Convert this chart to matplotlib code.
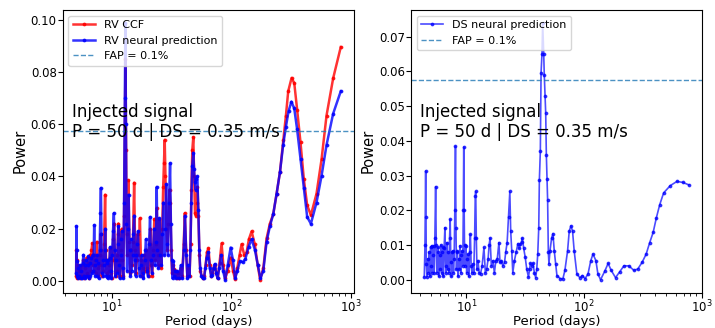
import numpy as np
import matplotlib.pyplot as plt

# ==================== Data ====================

rv_ccf_period = [
    5.00, 5.02, 5.05, 5.09, 5.14, 5.20, 5.27, 5.34, 5.42, 5.50, 5.58, 5.66, 5.74, 5.82, 5.92,
    6.02, 6.12, 6.22, 6.32, 6.42, 6.52, 6.62, 6.72, 6.82, 6.92, 7.02, 7.12, 7.22, 7.34, 7.46,
    7.56, 7.66, 7.78, 7.90, 8.00, 8.08, 8.18, 8.30, 8.42, 8.56, 8.74, 8.86, 8.98, 9.08, 9.20,
    9.34, 9.48, 9.62, 9.76, 9.90, 10.05, 10.22, 10.4, 10.56, 10.72, 10.9, 11.05, 11.2, 11.3,
    11.5, 11.65, 11.85, 12.05, 12.2, 12.4, 12.6, 12.8, 12.95, 13.1, 13.25, 13.45, 13.7, 13.95,
    14.2, 14.45, 14.7, 14.95, 15.3, 15.6, 15.85, 16.1, 16.4, 16.75, 17.1, 17.45, 17.8, 18.2,
    18.6, 19.0, 19.4, 19.8, 20.2, 20.6, 20.9, 21.3, 21.7, 22.1, 22.6, 23.0, 23.4, 23.7, 24.1,
    24.5, 24.9, 25.4, 25.9, 26.3, 26.8, 27.2, 27.6, 28.0, 28.5, 29.0, 29.6, 30.3, 30.8, 31.3,
    31.8, 32.3, 32.8, 33.4, 34.0, 34.7, 35.4, 36.5, 37.6, 38.7, 39.8, 40.7, 41.7, 42.7, 43.6,
    44.6, 45.4, 46.2, 47.0, 47.9, 48.7, 49.5, 50.3, 51.1, 51.9, 52.9, 53.9, 54.8, 56.2, 57.7,
    59.2, 60.7, 62.3, 64.2, 66.0, 67.7, 69.2, 71.0, 72.8, 74.6, 76.8, 79.5, 82.7, 85.5, 88.8,
    93.0, 98.4, 103, 107, 112, 117, 121.6, 128, 134, 140, 147.5, 157, 166, 174, 185, 197, 210,
    224, 239, 255, 272, 286, 299, 319, 336, 355, 379, 404, 431, 463, 516, 569, 626, 711, 824]
rv_ccf_power = [
    0.002, 0.012, 0.008, 0.001, 0.006, 0.002, 0.004, 0.001, 0.005, 0.002, 0.006, 0.002, 0.008, 0.001, 0.005,
    0.002, 0.009, 0.003, 0.007, 0.001, 0.010, 0.004, 0.012, 0.0144, 0.006, 0.010, 0.004, 0.008, 0.003, 0.015,
    0.005, 0.002, 0.006, 0.010, 0.018, 0.012, 0.002, 0.006, 0.004, 0.014, 0.033, 0.012, 0.003, 0.008, 0.002,
    0.006, 0.004, 0.0125, 0.003, 0.001, 0.008, 0.016, 0.022, 0.008, 0.002, 0.010, 0.004, 0.018, 0.022,
    0.008, 0.002, 0.012, 0.020, 0.008, 0.002, 0.025, 0.060, 0.085, 0.050, 0.018, 0.010, 0.0385, 0.015,
    0.003, 0.012, 0.006, 0.015, 0.0376, 0.012, 0.003, 0.008, 0.018, 0.010, 0.024, 0.008, 0.002, 0.005,
    0.010, 0.004, 0.012, 0.005, 0.002, 0.014, 0.020, 0.006, 0.002, 0.012, 0.0237, 0.008, 0.014, 0.028, 0.010,
    0.006, 0.0237, 0.010, 0.005, 0.020, 0.036, 0.045, 0.054, 0.040, 0.020, 0.012, 0.022, 0.035, 0.030, 0.012,
    0.003, 0.006, 0.0045, 0.002, 0.004, 0.001, 0.003, 0.001, 0.005, 0.002, 0.014, 0.026, 0.012, 0.002, 0.005,
    0.002, 0.014, 0.035, 0.050, 0.055, 0.040, 0.026, 0.025, 0.030, 0.036, 0.025, 0.010, 0.004, 0.002, 0.001,
    0.002, 0.006, 0.011, 0.0125, 0.006, 0.002, 0.003, 0.005, 0.0062, 0.003, 0.001, 0.007, 0.0144, 0.006, 0.001,
    0.004, 0.009, 0.004, 0.0008, 0.005, 0.010, 0.0141, 0.010, 0.011, 0.016, 0.019, 0.014, 0.006, 0.0005, 0.005, 0.0163, 0.022,
    0.0256, 0.0334, 0.0417, 0.054, 0.0633, 0.0726, 0.0777, 0.0757, 0.0656, 0.053, 0.039, 0.029, 0.0252, 0.0334, 0.0466, 0.0633, 0.0775, 0.0895]

rv_nn_period = [
    5.00, 5.02, 5.05, 5.08, 5.12, 5.17, 5.23, 5.30, 5.37, 5.44, 5.52, 5.60, 5.67, 5.75, 5.82,
    5.90, 5.98, 6.07, 6.16, 6.25, 6.32, 6.40, 6.50, 6.58, 6.68, 6.78, 6.88, 6.98, 7.08, 7.16,
    7.24, 7.34, 7.44, 7.54, 7.64, 7.75, 7.86, 7.97, 8.06, 8.14, 8.22, 8.32, 8.42, 8.54, 8.64,
    8.76, 8.86, 8.96, 9.06, 9.16, 9.28, 9.40, 9.52, 9.62, 9.74, 9.86, 10.0, 10.18, 10.35, 10.52,
    10.68, 10.84, 11.0, 11.15, 11.3, 11.45, 11.6, 11.8, 11.95, 12.1, 12.25, 12.42, 12.6, 12.78,
    12.93, 13.06, 13.2, 13.35, 13.55, 13.78, 14.0, 14.2, 14.4, 14.62, 14.85, 15.05, 15.3, 15.55,
    15.75, 15.95, 16.2, 16.5, 16.8, 17.1, 17.4, 17.7, 18.0, 18.3, 18.7, 19.0, 19.25, 19.6, 20.0,
    20.4, 20.8, 21.2, 21.6, 22.0, 22.5, 22.9, 23.3, 23.65, 24.0, 24.35, 24.9, 25.4, 25.9, 26.4,
    26.9, 27.4, 27.9, 28.4, 28.9, 29.4, 30.0, 30.6, 31.1, 31.6, 32.1, 32.6, 33.2, 33.9, 34.5,
    35.2, 36.3, 37.6, 38.6, 39.8, 40.8, 41.8, 42.8, 43.6, 44.5, 45.3, 46.1, 46.9, 47.9, 48.6,
    49.3, 50.1, 50.9, 51.8, 52.8, 53.8, 54.7, 56.0, 57.5, 59.0, 60.5, 62.0, 64.0, 65.8, 67.5,
    69.0, 70.8, 72.5, 74.5, 76.5, 79.0, 82.0, 85.0, 88.5, 93.0, 98.4, 103, 107.5, 112, 118,
    124, 131, 139, 147.5, 157, 166.5, 175, 185, 197, 210, 224, 239, 255, 271, 286, 301, 318,
    336, 355, 379, 404, 431, 463, 516, 569, 626, 711, 824]
rv_nn_power = [
    0.003, 0.021, 0.012, 0.002, 0.0075, 0.001, 0.005, 0.002, 0.006, 0.001, 0.004, 0.001, 0.007, 0.010, 0.002,
    0.006, 0.001, 0.008, 0.002, 0.006, 0.0094, 0.001, 0.007, 0.002, 0.009, 0.003, 0.010, 0.004, 0.0214, 0.006,
    0.002, 0.008, 0.010, 0.002, 0.007, 0.001, 0.012, 0.026, 0.0356, 0.018, 0.003, 0.008, 0.002, 0.006, 0.012,
    0.020, 0.008, 0.002, 0.007, 0.001, 0.008, 0.002, 0.009, 0.013, 0.004, 0.001, 0.010, 0.019, 0.026, 0.012,
    0.002, 0.008, 0.003, 0.014, 0.021, 0.006, 0.001, 0.010, 0.016, 0.019, 0.005, 0.001, 0.030, 0.070,
    0.0987, 0.060, 0.022, 0.004, 0.020, 0.033, 0.012, 0.002, 0.016, 0.004, 0.010, 0.018, 0.025, 0.008,
    0.002, 0.010, 0.014, 0.019, 0.005, 0.002, 0.006, 0.010, 0.003, 0.001, 0.008, 0.012, 0.016, 0.004, 0.002,
    0.014, 0.0245, 0.008, 0.003, 0.010, 0.020, 0.006, 0.015, 0.036, 0.012, 0.005, 0.024, 0.010, 0.006, 0.018,
    0.030, 0.010, 0.020, 0.037, 0.014, 0.010, 0.030, 0.045, 0.022, 0.008, 0.001, 0.0075, 0.002, 0.004, 0.001,
    0.0037, 0.001, 0.006, 0.001, 0.012, 0.025, 0.010, 0.001, 0.006, 0.002, 0.012, 0.030, 0.044, 0.049, 0.043,
    0.038, 0.035, 0.039, 0.040, 0.027, 0.012, 0.005, 0.002, 0.001, 0.001, 0.005, 0.009, 0.011, 0.005, 0.002,
    0.0024, 0.005, 0.0065, 0.003, 0.001, 0.005, 0.010, 0.004, 0.0005, 0.006, 0.0128, 0.008, 0.001, 0.004, 0.0075,
    0.0072, 0.0085, 0.013, 0.016, 0.012, 0.006, 0.001, 0.004, 0.015, 0.021, 0.0256, 0.0334, 0.0417, 0.052, 0.059, 0.065, 0.0686,
    0.066, 0.058, 0.0467, 0.0355, 0.0245, 0.0219, 0.030, 0.0403, 0.052, 0.064, 0.0726]

ds_period = [
    4.39, 4.45, 4.51, 4.54, 4.57, 4.62, 4.68, 4.75, 4.82, 4.90, 4.97, 5.03, 5.07, 5.13, 5.20,
    5.27, 5.33, 5.40, 5.48, 5.55, 5.62, 5.70, 5.77, 5.85, 5.93, 6.00, 6.07, 6.15, 6.23, 6.31,
    6.38, 6.47, 6.57, 6.66, 6.74, 6.82, 6.92, 7.00, 7.10, 7.20, 7.29, 7.38, 7.47, 7.57, 7.67,
    7.77, 7.87, 7.98, 8.08, 8.16, 8.24, 8.32, 8.40, 8.50, 8.62, 8.74, 8.85, 8.97, 9.08, 9.20,
    9.32, 9.42, 9.50, 9.58, 9.68, 9.80, 9.94, 10.06, 10.2, 10.34, 10.5, 10.65, 10.82, 10.98,
    11.15, 11.4, 11.55, 11.75, 11.9, 12.0, 12.15, 12.3, 12.55, 12.85, 13.2, 13.6, 14.1, 14.5,
    14.9, 15.3, 15.6, 15.9, 16.3, 16.8, 17.3, 17.8, 18.3, 18.9, 19.3, 19.8, 20.4, 21.1, 21.6,
    22.2, 22.8, 23.4, 23.8, 24.3, 24.8, 25.6, 26.5, 27.4, 28.1, 28.8, 29.4, 29.9, 30.7, 31.6,
    32.6, 33.7, 34.4, 35.0, 36.0, 36.9, 37.8, 38.8, 39.6, 40.4, 41.2, 41.7, 42.5, 43.1, 43.9,
    44.5, 45.4, 45.9, 46.6, 47.2, 47.8, 48.4, 49.0, 49.7, 50.3, 51.3, 53.0, 54.4, 55.8, 57.3,
    58.8, 62.8, 66.1, 68.7, 72.4, 74.8, 77.3, 79.8, 82.4, 86.8, 92.0, 96.9, 102, 108, 114,
    119, 126, 131, 138, 150, 160, 170, 185, 200, 218, 240, 265, 286, 311, 337, 361, 386, 411,
    439, 474, 540, 615, 692, 777]
ds_power = [
    0.0008, 0.010, 0.0313, 0.018, 0.0045, 0.0008, 0.006, 0.002, 0.008, 0.001, 0.0095, 0.004, 0.0098, 0.002, 0.007,
    0.0098, 0.002, 0.012, 0.0268, 0.010, 0.002, 0.008, 0.0093, 0.001, 0.007, 0.003, 0.010, 0.002, 0.008, 0.0093,
    0.001, 0.009, 0.015, 0.004, 0.002, 0.0107, 0.003, 0.008, 0.002, 0.012, 0.0174, 0.005, 0.001, 0.008, 0.0083,
    0.002, 0.006, 0.020, 0.0384, 0.015, 0.003, 0.008, 0.0083, 0.001, 0.006, 0.003, 0.0098, 0.002, 0.007, 0.0083,
    0.004, 0.020, 0.0382, 0.020, 0.004, 0.010, 0.0098, 0.002, 0.006, 0.0074, 0.001, 0.008, 0.0131, 0.004,
    0.002, 0.0046, 0.002, 0.012, 0.024, 0.0254, 0.012, 0.003, 0.0055, 0.002, 0.0017, 0.004, 0.0093, 0.002,
    0.0031, 0.006, 0.010, 0.012, 0.004, 0.0055, 0.002, 0.0055, 0.006, 0.0107, 0.005, 0.0055, 0.004, 0.005, 0.008,
    0.0107, 0.018, 0.0254, 0.014, 0.0083, 0.002, 0.0055, 0.008, 0.0104, 0.009, 0.0102, 0.011, 0.012, 0.009, 0.0065,
    0.003, 0.0008, 0.003, 0.0047, 0.004, 0.0047, 0.002, 0.0006, 0.003, 0.0074, 0.015, 0.0287, 0.037, 0.0596, 0.065,
    0.0739, 0.065, 0.059, 0.053, 0.048, 0.036, 0.029, 0.023, 0.0079, 0.0046, 0.0083, 0.012, 0.0133, 0.0083, 0.0046,
    0.0012, 0.0003, 0.0003, 0.0027, 0.0083, 0.014, 0.0155, 0.014, 0.0083, 0.0017, 0.0006, 0.0012, 0.0003, 0.0017, 0.0055,
    0.0074, 0.0055, 0.0017, 0.0, 0.0025, 0.0047, 0.0027, 0.0006, 0.0022, 0.004, 0.004, 0.0027, 0.0031, 0.005, 0.0074, 0.0107, 0.0136, 0.0178,
    0.0216, 0.025, 0.0271, 0.0283, 0.028, 0.0273]

fap_level = 0.0574
signal_text = "Injected signal\nP = 50 d | DS = 0.35 m/s"

# ==================== Plot ====================
fig, (ax1, ax2) = plt.subplots(1, 2, figsize=(7.15, 3.28), dpi=100)
fig.subplots_adjust(left=0.088, right=0.982, bottom=0.108, top=0.969, wspace=0.196)

ax1.plot(rv_ccf_period, rv_ccf_power, color='red', marker='.', markersize=3.5,
         linewidth=1.8, alpha=0.8, label='RV CCF')
ax1.plot(rv_nn_period, rv_nn_power, color='blue', marker='.', markersize=3.5,
         linewidth=1.8, alpha=0.8, label='RV neural prediction')
ax1.axhline(fap_level, color='tab:blue', linestyle='--', linewidth=1, alpha=0.8, label='FAP = 0.1%')

ax2.plot(ds_period, ds_power, color='blue', marker='.', markersize=3.5,
         linewidth=1.2, alpha=0.7, label='DS neural prediction')
ax2.axhline(fap_level, color='tab:blue', linestyle='--', linewidth=1, alpha=0.8, label='FAP = 0.1%')

for ax in (ax1, ax2):
    ax.set_xscale('log')
    ax.set_xlabel('Period (days)', fontsize=9.5, labelpad=0)
    ax.set_ylabel('Power', fontsize=10.5, labelpad=2)
    ax.tick_params(labelsize=8.5, pad=1)
    ax.legend(loc='upper left', fontsize=8)
    ax.text(0.03, 0.535, signal_text, transform=ax.transAxes, fontsize=12, va='bottom', ha='left')

plt.savefig('out.png')
